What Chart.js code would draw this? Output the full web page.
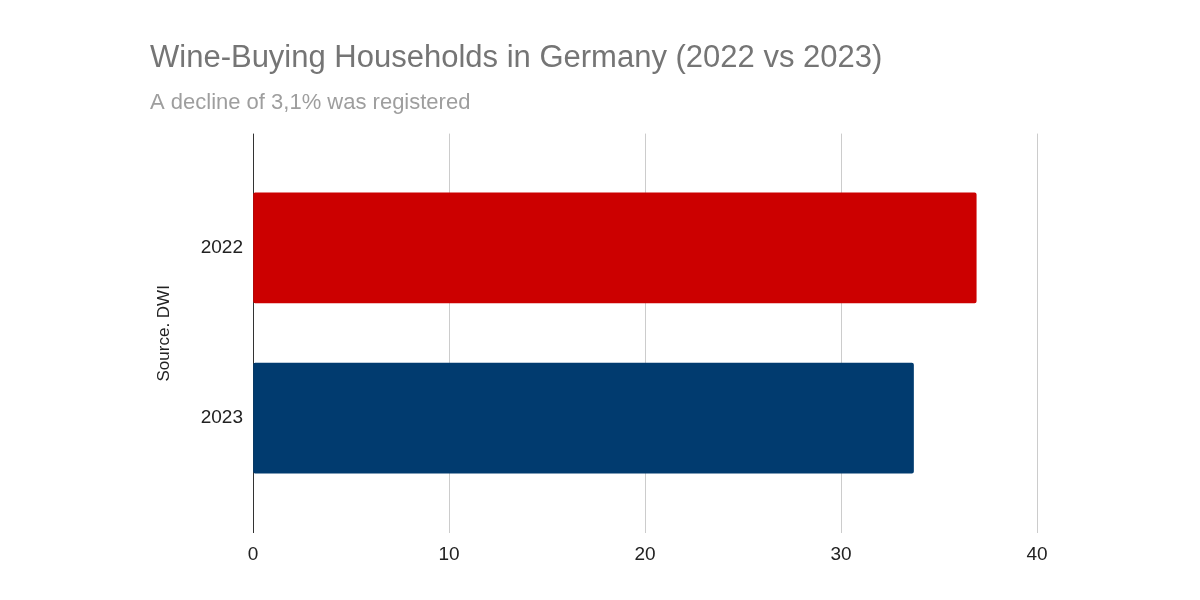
<!DOCTYPE html>
<html>
<head>
<meta charset="utf-8">
<script src="https://cdn.jsdelivr.net/npm/chart.js@4/dist/chart.umd.min.js"></script>
<style>
  body { margin: 0; background: #fff; }
</style>
</head>
<body>
<canvas id="wineCh" width="1200" height="600"></canvas>
<script>
let years = ['2022', '2023']
let households = [36.9, 33.7]
let bar_colors = ['#cc0000', '#013b6f']
let x_ticks = [0, 10, 20, 30, 40]

const ctx = document.getElementById('wineCh').getContext('2d')

const wineChart = new Chart(ctx, {
    type: 'bar',
    data: {
        datasets: [{
            label: 'Households',
            data: households.map((v, i) => ({ x: v, y: i })),
            backgroundColor: bar_colors,
            barThickness: 110,
            borderRadius: 2,
            borderSkipped: false
        }]
    },
    options: {
        indexAxis: 'y',
        responsive: false,
        animation: false,
        layout: {
            padding: { left: 150, right: 163, top: 0, bottom: 0 }
        },
        plugins: {
            legend: { display: false },
            tooltip: { enabled: false },
            title: {
                display: true,
                text: 'Wine-Buying Households in Germany (2022 vs 2023)',
                align: 'start',
                color: '#757575',
                font: { family: 'Liberation Sans, Arial', size: 31, weight: 'normal' },
                padding: { top: 40, bottom: 6 }
            },
            subtitle: {
                display: true,
                text: 'A decline of 3,1% was registered',
                align: 'start',
                color: '#9e9e9e',
                font: { family: 'Liberation Sans, Arial', size: 22 },
                padding: { top: 7, bottom: 17 }
            }
        },
        scales: {
            x: {
                type: 'linear',
                min: 0,
                max: 40,
                afterBuildTicks: axis => { axis.ticks = x_ticks.map(v => ({ value: v })) },
                afterFit: axis => { axis.height = 67 },
                border: { display: false },
                grid: {
                    drawTicks: false,
                    color: c => c.tick && c.tick.value === 0 ? '#333333' : '#cccccc',
                    lineWidth: 1
                },
                ticks: {
                    padding: 10,
                    color: '#222222',
                    font: { family: 'Liberation Sans, Arial', size: 19 }
                }
            },
            y: {
                type: 'linear',
                reverse: true,
                offset: false,
                min: -0.6716,
                max: 1.6745,
                afterBuildTicks: axis => { axis.ticks = years.map((y, i) => ({ value: i })) },
                afterFit: axis => { axis.width = 103 },
                border: { display: false },
                grid: { display: false, drawTicks: false, offset: false },
                ticks: {
                    padding: 10,
                    color: '#222222',
                    font: { family: 'Liberation Sans, Arial', size: 19 },
                    callback: v => years[v]
                },
                title: {
                    display: true,
                    text: 'Source. DWI',
                    color: '#222222',
                    font: { family: 'Liberation Sans, Arial', size: 17 },
                    padding: { top: 4, bottom: 0 }
                }
            }
        }
    }
})
</script>
</body>
</html>
